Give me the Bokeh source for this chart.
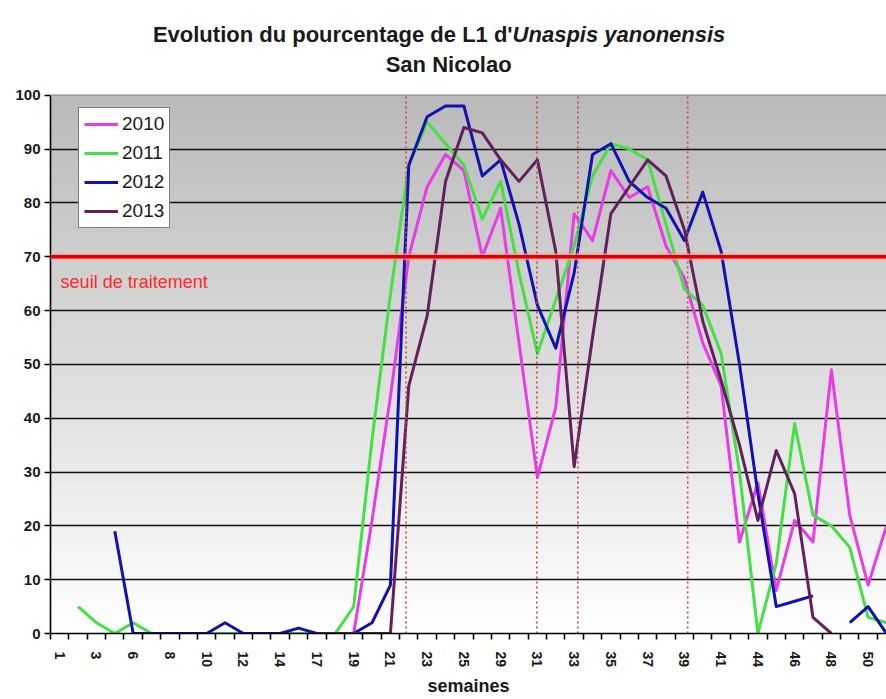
import numpy as np
from bokeh.plotting import figure
from bokeh.models import FixedTicker, Span, Label
from bokeh.embed import file_html
from bokeh.resources import INLINE

# ---------------- data ----------------
weeks = ["1", "2", "3", "5", "6", "7", "8", "9", "10", "11", "12", "13", "14", "16",
         "17", "18", "19", "20", "21", "22", "23", "24", "25", "28", "29", "30", "31",
         "32", "33", "34", "35", "36", "37", "38", "39", "40", "41", "43", "44", "45",
         "46", "47", "48", "49", "50", "51"]

y2010 = [None, None, None, None, None, None, None, None, None, None, None, None, None, None,
         0, 0, 0, 21, 44, 70, 83, 89, 86, 70, 79, 54, 29, 42, 78, 73, 86, 81, 83, 72, 66,
         54, 46, 17, 28, 8, 21, 17, 49, 22, 9, 20]
y2011 = [None, 5, 2, 0, 2, 0, 0, 0, 0, 0, 0, 0, 0, 0, 0, 0, 5, 36, 63, 87, 95, 91, 87, 77,
         84, 67, 52, 62, 72, 85, 91, 90, 88, 76, 64, 61, 52, 30, 0, 13, 39, 22, 20, 16, 3, 2]
y2012 = [None, None, None, 19, 0, 0, 0, 0, 0, 2, 0, 0, 0, 1, 0, 0, 0, 2, 9, 87, 96, 98, 98,
         85, 88, 76, 61, 53, 67, 89, 91, 84, 81, 79, 73, 82, 71, 50, 26, 5, 6, 7, None, 2, 5, 0]
y2013 = [None, None, None, None, None, None, None, None, None, None, None, None, None, None,
         0, 0, 0, 0, 0, 46, 59, 84, 94, 93, 88, 84, 88, 71, 31, 55, 78, 83, 88, 85, 75, 58,
         47, 35, 21, 34, 26, 3, 0, None, None, None]

series_names = ["2010", "2011", "2012", "2013"]
seuil = 70
traitements = [19.35, 26.47, 28.7, 34.68]   # hand-drawn markers, category-axis units

# ---------------- figure ----------------
FONT = "Liberation Sans"
colors = ["#E83CE8", "#44E044", "#1212B0", "#62205C"]
YMAX = 100

p = figure(width=886, height=699, x_range=(0, 45.5), y_range=(0, 117.6),
           output_backend="svg", toolbar_location=None,
           min_border_left=50, min_border_right=0, min_border_top=0, min_border_bottom=58)
p.background_fill_color = "white"
p.border_fill_color = "white"
p.outline_line_color = None

# gradient background (gray at top -> white at bottom), only inside the 0..100 area
nb = 60
edges = np.linspace(0, YMAX, nb + 1)
mid = (edges[:-1] + edges[1:]) / 2
g = (255 - (mid / YMAX) * (255 - 186)).astype(int)
bg_cols = ["#%02x%02x%02x" % (v, v, v) for v in g]
p.quad(left=0, right=46, bottom=edges[:-1], top=edges[1:], fill_color=bg_cols,
       line_color=bg_cols, line_width=1, level="image")

# top border of plot area
p.add_layout(Span(location=YMAX, dimension="width", line_color="#9a9a9a", line_width=1.5))

# grid
p.xgrid.visible = False
p.ygrid.ticker = FixedTicker(ticks=[10, 20, 30, 40, 50, 60, 70, 80, 90])
p.ygrid.grid_line_color = "#111111"
p.ygrid.grid_line_width = 1.6

# axes
p.yaxis.bounds = (0, YMAX)
p.yaxis.ticker = FixedTicker(ticks=list(range(0, 101, 10)))
p.yaxis.major_label_text_font = FONT
p.yaxis.major_label_text_font_style = "bold"
p.yaxis.major_label_text_font_size = "15px"
p.yaxis.major_label_text_color = "#1a1a1a"
p.yaxis.major_tick_out = 6
p.yaxis.major_tick_in = 0
p.yaxis.minor_tick_line_color = None
p.yaxis.axis_line_width = 1.6
p.yaxis.major_tick_line_width = 1.6
p.yaxis.axis_line_color = "black"
p.yaxis.major_label_standoff = 4

x = np.arange(len(weeks)) + 0.5
lab_pos = [float(x[i]) for i in range(0, len(weeks), 2)]
p.xaxis.ticker = FixedTicker(ticks=lab_pos, minor_ticks=list(range(0, len(weeks) + 1)))
p.xaxis.major_label_overrides = {float(x[i]): weeks[i] for i in range(0, len(weeks), 2)}
p.xaxis.major_tick_out = 0
p.xaxis.major_tick_in = 0
p.xaxis.minor_tick_out = 6
p.xaxis.minor_tick_in = 0
p.xaxis.minor_tick_line_color = "black"
p.xaxis.minor_tick_line_width = 1.6
p.xaxis.axis_line_width = 1.6
p.xaxis.axis_line_color = "black"
p.xaxis.major_label_orientation = "vertical"
p.xaxis.major_label_text_font = FONT
p.xaxis.major_label_text_font_style = "bold"
p.xaxis.major_label_text_font_size = "14px"
p.xaxis.major_label_text_color = "#1a1a1a"
p.xaxis.major_label_standoff = 12
p.xaxis.axis_label = "semaines"
p.xaxis.axis_label_text_font = FONT
p.xaxis.axis_label_text_font_style = "bold"
p.xaxis.axis_label_text_font_size = "18px"
p.xaxis.axis_label_text_color = "#1a1a1a"
p.xaxis.axis_label_standoff = 6

# data lines
for name, ys, c in zip(series_names, [y2010, y2011, y2012, y2013], colors):
    yy = np.array(ys, dtype=float)
    p.line(x, yy, line_color=c, line_width=3, legend_label=name, line_join="round")

# threshold line
p.add_layout(Span(location=seuil, dimension="width", line_color="#FF9A9A",
                  line_width=7, line_alpha=0.7))
p.add_layout(Span(location=seuil, dimension="width", line_color="#E00000", line_width=3.5))
p.add_layout(Label(x=0.55, y=65.3, text="seuil de traitement", text_font=FONT,
                   text_font_size="18px", text_color="#FF2A2A", text_baseline="alphabetic"))

# treatment dates (dotted)
p.segment(x0=traitements, y0=[0] * len(traitements), x1=traitements, y1=[YMAX] * len(traitements),
          line_color="#C84848", line_dash="2 3", line_width=1.6)

# title
p.add_layout(Label(x=25.15, y=111.2, text="Evolution du pourcentage de L1 d'",
                   text_align="right", text_baseline="alphabetic", text_font=FONT,
                   text_font_style="bold", text_font_size="22px", text_color="#1a1a1a"))
p.add_layout(Label(x=25.15, y=111.2, text="Unaspis yanonensis",
                   text_align="left", text_baseline="alphabetic", text_font=FONT,
                   text_font_style="bold italic", text_font_size="22px", text_color="#1a1a1a"))
p.add_layout(Label(x=21.67, y=105.7, text="San Nicolao",
                   text_align="center", text_baseline="alphabetic", text_font=FONT,
                   text_font_style="bold", text_font_size="22px", text_color="#1a1a1a"))

# legend
lg = p.legend[0]
lg.location = (28, 405)
lg.border_line_color = "black"
lg.border_line_width = 1.5
lg.background_fill_color = "white"
lg.background_fill_alpha = 1
lg.label_text_font = FONT
lg.label_text_font_size = "19px"
lg.label_text_color = "#1a1a1a"
lg.glyph_width = 34
lg.glyph_height = 22
lg.label_height = 22
lg.spacing = 7
lg.padding = 5
lg.label_standoff = 4
lg.margin = 0

open("out.html", "w").write(file_html(p, INLINE))
